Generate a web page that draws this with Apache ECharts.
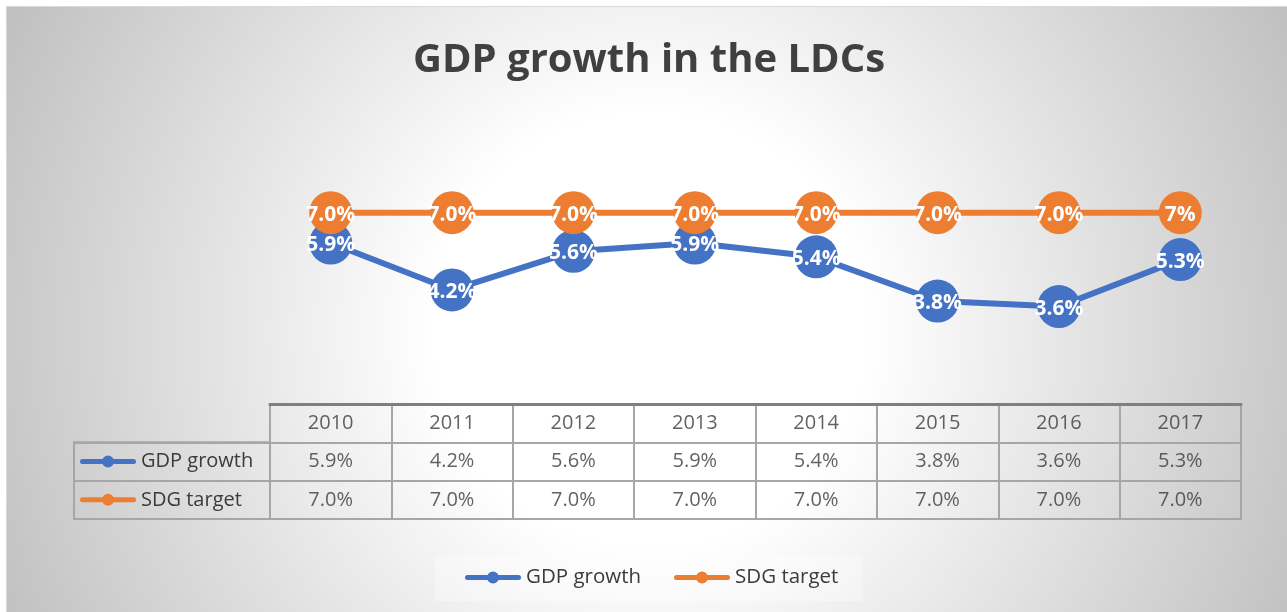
<!DOCTYPE html>
<html>
<head>
<meta charset="utf-8">
<title>GDP growth in the LDCs</title>
<script src="https://cdn.jsdelivr.net/npm/echarts@6/dist/echarts.min.js"></script>
<style>
  html, body { margin: 0; padding: 0; background: #ffffff; }
  #chart { width: 1287px; height: 612px; }
</style>
</head>
<body>
<div id="chart"></div>
<script>
// Years shown on the category axis and in the table header
const years = ['2010', '2011', '2012', '2013', '2014', '2015', '2016', '2017'];
// Series names
const seriesNames = ['GDP growth', 'SDG target'];
// Annual GDP growth of the least developed countries (%)
const gdpGrowth = [5.9, 4.2, 5.6, 5.9, 5.4, 3.8, 3.6, 5.3];
// Sustainable Development Goal growth target (%)
const sdgTarget = [7.0, 7.0, 7.0, 7.0, 7.0, 7.0, 7.0, 7.0];

const BLUE = '#4472C4';
const ORANGE = '#ED7D31';
const TEXT = '#3b3b3b';
const RULE = '#a6a6a6';
const FONT = '"Open Sans", "Noto Sans", sans-serif';

// legend key: a thick rounded stroke with a dot in the middle
const keyIcon = 'path://M2.5,3.5 H53.5 A2.5,2.5 0 0 1 53.5,8.5 H2.5 A2.5,2.5 0 0 1 2.5,3.5 Z ' +
                'M22,6 A6,6 0 0 1 34,6 A6,6 0 0 1 22,6 Z';

const pct = v => v.toFixed(1) + '%';

// cells of the data table: header row of years, then one row per series
const tableRows = [years, gdpGrowth.map(pct), sdgTarget.map(pct)];
const tableCells = [];
tableRows.forEach((row, r) => {
  row.forEach((text, c) => tableCells.push({ value: [c, r], text: text }));
});

// the last target point is labelled without a decimal place
const sdgData = sdgTarget.map((v, i) => i === sdgTarget.length - 1
  ? { value: v, label: { formatter: p => p.value.toFixed(0) + '%' } }
  : v);

const pointLabel = {
  show: true,
  position: 'inside',
  offset: [0, 2],
  color: '#ffffff',
  fontFamily: FONT,
  fontWeight: 'bold',
  fontSize: 21,
  formatter: p => pct(p.value)
};

const chart = echarts.init(document.getElementById('chart'), null, { renderer: 'canvas' });

chart.setOption({
  animation: false,
  backgroundColor: '#ffffff',
  textStyle: { fontFamily: FONT },
  graphic: [{
    type: 'rect',
    z: -100,
    silent: true,
    shape: { x: 6.5, y: 6.5, width: 1290, height: 620 },
    style: {
      fill: {
        type: 'radial', global: true, x: 650, y: 330, r: 720,
        colorStops: [
          { offset: 0, color: '#ffffff' },
          { offset: 0.3, color: '#ffffff' },
          { offset: 1, color: '#bfbfbf' }
        ]
      },
      stroke: '#d9d9d9',
      lineWidth: 1
    }
  }],
  title: {
    text: 'GDP growth in the LDCs',
    left: 644,
    textAlign: 'center',
    top: 30,
    textStyle: {
      fontFamily: FONT, fontWeight: 'bold', fontSize: 40,
      color: '#404040', lineHeight: 52
    }
  },
  legend: [{
    data: seriesNames,
    left: 435,
    top: 555,
    orient: 'horizontal',
    icon: keyIcon,
    itemWidth: 56,
    itemHeight: 12,
    itemGap: 33,
    padding: [12, 24, 13, 30],
    backgroundColor: 'rgba(255,255,255,0.3)',
    selectedMode: false,
    textStyle: { fontFamily: FONT, fontSize: 20.5, color: TEXT, lineHeight: 20 }
  }, {
    data: seriesNames,
    left: 80,
    top: 451.5,
    orient: 'vertical',
    icon: keyIcon,
    itemWidth: 56,
    itemHeight: 12,
    itemGap: 18.33,
    padding: 0,
    selectedMode: false,
    textStyle: { fontFamily: FONT, fontSize: 20, color: TEXT, lineHeight: 20 }
  }],
  grid: [
    // plot area
    { left: 270, right: 46, top: 185, height: 221 },
    // data table: year columns
    { left: 270, right: 46, top: 404, height: 115, show: true,
      borderColor: RULE, borderWidth: 2, backgroundColor: 'transparent' },
    // data table: series name column
    { left: 74, width: 196, top: 442.33, height: 76.67, show: true,
      borderColor: RULE, borderWidth: 2, backgroundColor: 'transparent' }
  ],
  xAxis: [
    { type: 'category', gridIndex: 0, data: years, boundaryGap: true, show: false },
    { type: 'category', gridIndex: 1, data: years, boundaryGap: true, position: 'top',
      axisLine: { show: true, lineStyle: { color: '#7f7f7f', width: 3 } },
      axisTick: { show: false }, axisLabel: { show: false },
      splitLine: { show: true, lineStyle: { color: RULE, width: 2 } } },
    { type: 'category', gridIndex: 2, data: [''], show: false }
  ],
  yAxis: [
    { type: 'value', gridIndex: 0, min: 0, max: 8, show: false },
    { type: 'category', gridIndex: 1, data: ['', ...seriesNames], inverse: true,
      axisLine: { show: false }, axisTick: { show: false }, axisLabel: { show: false },
      splitLine: { show: true, lineStyle: { color: RULE, width: 2 } } },
    { type: 'category', gridIndex: 2, data: seriesNames, inverse: true,
      axisLine: { show: false }, axisTick: { show: false }, axisLabel: { show: false },
      splitLine: { show: true, lineStyle: { color: RULE, width: 2 } } }
  ],
  series: [
    {
      name: seriesNames[0],
      type: 'line',
      xAxisIndex: 0, yAxisIndex: 0,
      data: gdpGrowth,
      color: BLUE,
      symbol: 'circle',
      symbolSize: 43,
      lineStyle: { width: 6, color: BLUE, cap: 'round', join: 'round' },
      itemStyle: { color: BLUE },
      label: pointLabel,
      emphasis: { disabled: true },
      z: 3
    },
    {
      name: seriesNames[1],
      type: 'line',
      xAxisIndex: 0, yAxisIndex: 0,
      data: sdgData,
      color: ORANGE,
      symbol: 'circle',
      symbolSize: 43,
      lineStyle: { width: 6, color: ORANGE, cap: 'round', join: 'round' },
      itemStyle: { color: ORANGE },
      label: pointLabel,
      emphasis: { disabled: true },
      z: 4
    },
    {
      // table cell texts
      type: 'scatter',
      xAxisIndex: 1, yAxisIndex: 1,
      data: tableCells,
      symbol: 'circle',
      symbolSize: 1,
      itemStyle: { color: 'rgba(0,0,0,0)' },
      label: {
        show: true, position: 'inside',
        fontFamily: FONT, fontSize: 20, color: TEXT,
        formatter: p => p.data.text
      },
      emphasis: { disabled: true },
      silent: true,
      z: 5
    }
  ]
});
</script>
</body>
</html>
